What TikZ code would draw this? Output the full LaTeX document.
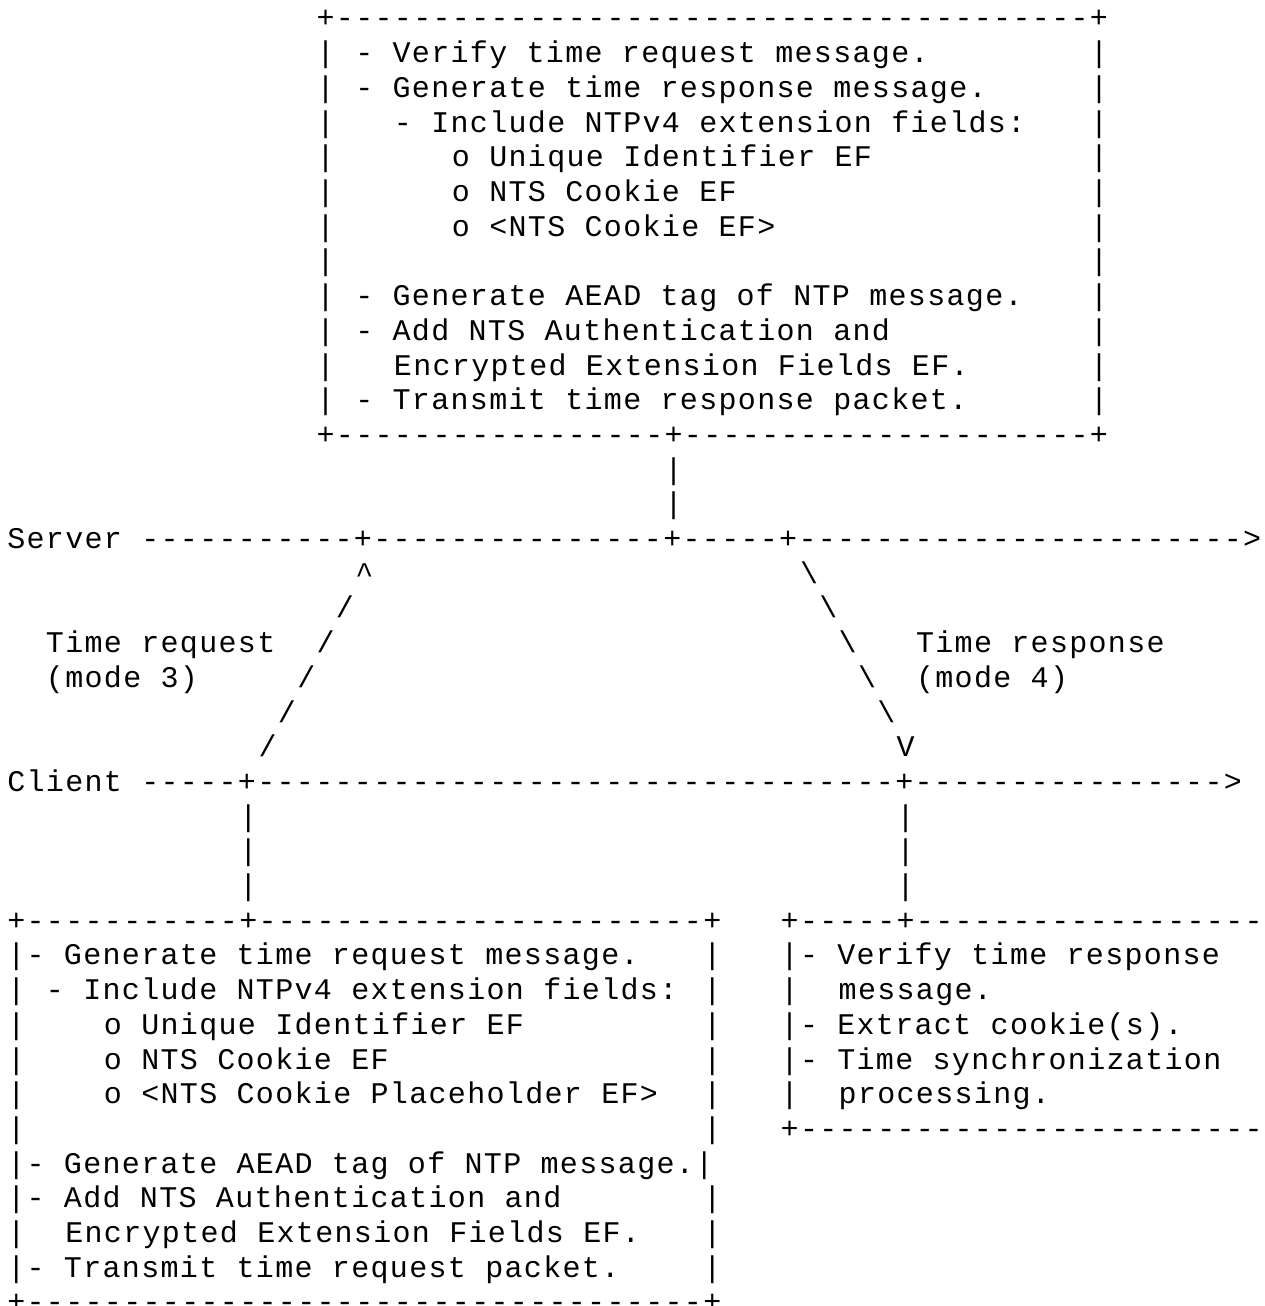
\documentclass[tikz,border=0pt]{standalone}
\usepackage{fontspec}
\newfontfamily\asciifont{Liberation Mono}[Ligatures=TeXOff, LetterSpace=4.44]
\newcommand{\dashrun}[1]{\foreach\k in {1,...,#1}{-}}
\tikzset{
  ascii/.style={anchor=base west, inner sep=0pt, outer sep=0pt,
    font=\asciifont\fontsize{15pt}{17.35pt}\selectfont\frenchspacing}
}
\begin{document}
\begin{tikzpicture}[x=9.667pt, y=-17.35pt]
        \useasboundingbox (-0.378,-0.807) rectangle (65.01,36.83);
        \clip (-0.378,-0.807) rectangle (65.01,36.83);

        % server box
        \node[ascii] (sbtop) at (16,0) {+\dashrun{39}+};
        \node[ascii] (sbl1) at (16,1) {|};
        \node[ascii] (sbl2) at (16,2) {|};
        \node[ascii] (sbl3) at (16,3) {|};
        \node[ascii] (sbl4) at (16,4) {|};
        \node[ascii] (sbl5) at (16,5) {|};
        \node[ascii] (sbl6) at (16,6) {|};
        \node[ascii] (sbl7) at (16,7) {|};
        \node[ascii] (sbl8) at (16,8) {|};
        \node[ascii] (sbl9) at (16,9) {|};
        \node[ascii] (sbl10) at (16,10) {|};
        \node[ascii] (sbl11) at (16,11) {|};
        \node[ascii] (sbr1) at (56,1) {|};
        \node[ascii] (sbr2) at (56,2) {|};
        \node[ascii] (sbr3) at (56,3) {|};
        \node[ascii] (sbr4) at (56,4) {|};
        \node[ascii] (sbr5) at (56,5) {|};
        \node[ascii] (sbr6) at (56,6) {|};
        \node[ascii] (sbr7) at (56,7) {|};
        \node[ascii] (sbr8) at (56,8) {|};
        \node[ascii] (sbr9) at (56,9) {|};
        \node[ascii] (sbr10) at (56,10) {|};
        \node[ascii] (sbr11) at (56,11) {|};
        \node[ascii] (sbt1) at (18,1) {- Verify time request message.};
        \node[ascii] (sbt2) at (18,2) {- Generate time response message.};
        \node[ascii] (sbt3) at (20,3) {- Include NTPv4 extension fields:};
        \node[ascii] (sbt4) at (23,4) {o Unique Identifier EF};
        \node[ascii] (sbt5) at (23,5) {o NTS Cookie EF};
        \node[ascii] (sbt6) at (23,6) {o <NTS Cookie EF>};
        \node[ascii] (sbt8) at (18,8) {- Generate AEAD tag of NTP message.};
        \node[ascii] (sbt9) at (18,9) {- Add NTS Authentication and};
        \node[ascii] (sbt10) at (20,10) {Encrypted Extension Fields EF.};
        \node[ascii] (sbt11) at (18,11) {- Transmit time response packet.};
        \node[ascii] (sbbot) at (16,12) {+\dashrun{17}+\dashrun{21}+};
        \node[ascii] (sv1) at (34,13) {|};
        \node[ascii] (sv2) at (34,14) {|};

        % time lines
        \node[ascii] (server) at (0,15) {Server \dashrun{11}+\dashrun{15}+\dashrun{5}+\dashrun{23}>};
        \node[ascii] (client) at (0,22) {Client \dashrun{5}+\dashrun{33}+\dashrun{16}>};

        % request
        \node[ascii] (req1) at (18,16) {\textasciicircum};
        \node[ascii] (req2) at (17,17) {/};
        \node[ascii] (req3) at (16,18) {/};
        \node[ascii] (req4) at (15,19) {/};
        \node[ascii] (req5) at (14,20) {/};
        \node[ascii] (req6) at (13,21) {/};
        \node[ascii] (reqlbl1) at (2,18) {Time request};
        \node[ascii] (reqlbl2) at (2,19) {(mode 3)};

        % response
        \node[ascii] (resp1) at (41,16) {\textbackslash};
        \node[ascii] (resp2) at (42,17) {\textbackslash};
        \node[ascii] (resp3) at (43,18) {\textbackslash};
        \node[ascii] (resp4) at (44,19) {\textbackslash};
        \node[ascii] (resp5) at (45,20) {\textbackslash};
        \node[ascii] (resp6) at (46,21) {V};
        \node[ascii] (resplbl1) at (47,18) {Time response};
        \node[ascii] (resplbl2) at (47,19) {(mode 4)};

        \node[ascii] (cl1) at (12,23) {|};
        \node[ascii] (cl2) at (12,24) {|};
        \node[ascii] (cl3) at (12,25) {|};
        \node[ascii] (cr1) at (46,23) {|};
        \node[ascii] (cr2) at (46,24) {|};
        \node[ascii] (cr3) at (46,25) {|};

        % client box
        \node[ascii] (cbtop) at (0,26) {+\dashrun{11}+\dashrun{23}+};
        \node[ascii] (cbt27) at (0,27) {|- Generate time request message.};
        \node[ascii] (cbl28) at (0,28) {|};
        \node[ascii] (cbt28) at (2,28) {- Include NTPv4 extension fields:};
        \node[ascii] (cbl29) at (0,29) {|};
        \node[ascii] (cbt29) at (5,29) {o Unique Identifier EF};
        \node[ascii] (cbl30) at (0,30) {|};
        \node[ascii] (cbt30) at (5,30) {o NTS Cookie EF};
        \node[ascii] (cbl31) at (0,31) {|};
        \node[ascii] (cbt31) at (5,31) {o <NTS Cookie Placeholder EF>};
        \node[ascii] (cbl32) at (0,32) {|};
        \node[ascii] (cbt33) at (0,33) {|- Generate AEAD tag of NTP message.|};
        \node[ascii] (cbt34) at (0,34) {|- Add NTS Authentication and};
        \node[ascii] (cbl35) at (0,35) {|};
        \node[ascii] (cbt35) at (3,35) {Encrypted Extension Fields EF.};
        \node[ascii] (cbt36) at (0,36) {|- Transmit time request packet.};
        \node[ascii] (cbr27) at (36,27) {|};
        \node[ascii] (cbr28) at (36,28) {|};
        \node[ascii] (cbr29) at (36,29) {|};
        \node[ascii] (cbr30) at (36,30) {|};
        \node[ascii] (cbr31) at (36,31) {|};
        \node[ascii] (cbr32) at (36,32) {|};
        \node[ascii] (cbr34) at (36,34) {|};
        \node[ascii] (cbr35) at (36,35) {|};
        \node[ascii] (cbr36) at (36,36) {|};
        \node[ascii] (cbbot) at (0,37) {+\dashrun{35}+};

        % processing box
        \node[ascii] (rbtop) at (40,26) {+\dashrun{5}+\dashrun{18}};
        \node[ascii] (rbt27) at (40,27) {|- Verify time response};
        \node[ascii] (rbl28) at (40,28) {|};
        \node[ascii] (rbt28) at (43,28) {message.};
        \node[ascii] (rbt29) at (40,29) {|- Extract cookie(s).};
        \node[ascii] (rbt30) at (40,30) {|- Time synchronization};
        \node[ascii] (rbl31) at (40,31) {|};
        \node[ascii] (rbt31) at (43,31) {processing.};
        \node[ascii] (rbbot) at (40,32) {+\dashrun{24}};
    \end{tikzpicture}
\end{document}
